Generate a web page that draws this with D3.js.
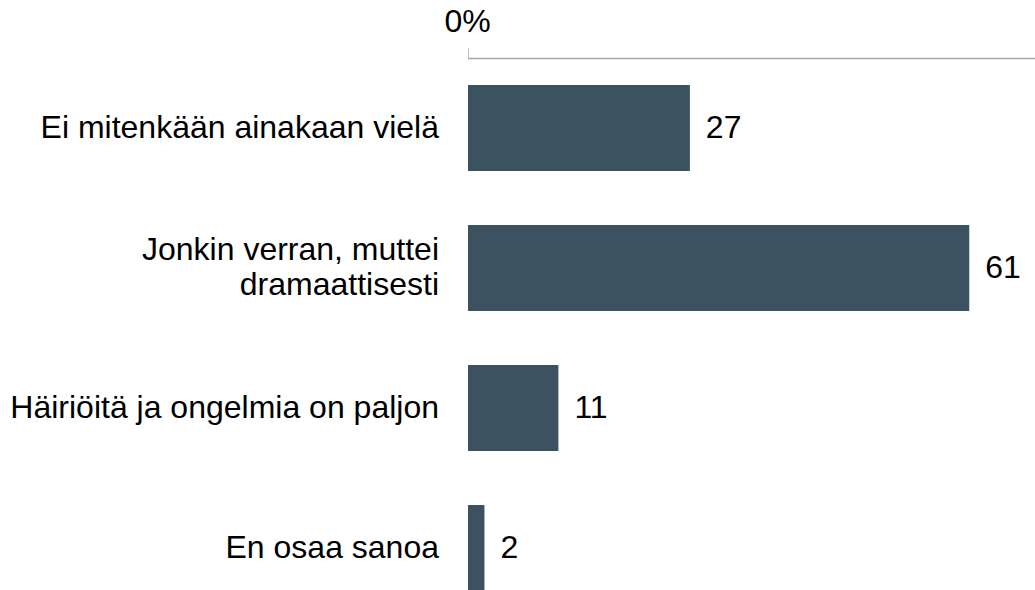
<!DOCTYPE html>
<html>
<head>
<meta charset="utf-8">
<script src="https://cdn.jsdelivr.net/npm/d3@7"></script>
<style>
  html, body { margin: 0; padding: 0; background: #fff; }
  svg { display: block; }
  text { font-family: Arial, "Liberation Sans", sans-serif; fill: #000; }
</style>
</head>
<body>
<svg id="chart" width="1035" height="590"></svg>
<script>
// Survey answers (percent)
const categories = [
  ["Ei mitenkään ainakaan vielä"],
  ["Jonkin verran, muttei", "dramaattisesti"],
  ["Häiriöitä ja ongelmia on paljon"],
  ["En osaa sanoa"]
];
const values = [27, 61, 11, 2];
const tickValues = [0];
const tickLabels = ["0%"];

const svg = d3.select("#chart");
const W = 1035;
const left = 468;
const fontSize = 32;

const x = d3.scaleLinear().domain([0, 69]).range([left, W]);
const y = d3.scaleBand()
  .domain(d3.range(values.length))
  .range([58, 618])
  .paddingInner(54 / 140)
  .paddingOuter(27 / 140);

// Top axis: baseline across the plot and a short tick at 0
const axis = d3.axisTop(x)
  .tickValues(tickValues)
  .tickFormat((d, i) => tickLabels[i])
  .tickSizeInner(10)
  .tickSizeOuter(0)
  .tickPadding(17);

const ax = svg.append("g")
  .attr("transform", "translate(0,58.5)")
  .call(axis);
ax.select(".domain").attr("stroke", "#a6a6a6").attr("stroke-width", 1.5)
  .attr("d", `M${left},0H${W}`);
ax.selectAll(".tick line").attr("stroke", "#bfbfbf").attr("stroke-width", 1);
ax.selectAll(".tick text")
  .attr("font-size", fontSize)
  .attr("fill", "#000")
  .attr("dx", -1)
  .style("font-family", "Arial, 'Liberation Sans', sans-serif");

// Bars
svg.append("g").selectAll("rect")
  .data(values)
  .join("rect")
  .attr("x", x(0))
  .attr("y", (d, i) => y(i))
  .attr("width", d => x(d) - x(0))
  .attr("height", y.bandwidth())
  .attr("fill", "#3d5261");

// Value labels
svg.append("g").selectAll("text")
  .data(values)
  .join("text")
  .attr("x", d => x(d) + 16)
  .attr("y", (d, i) => y(i) + y.bandwidth() / 2)
  .attr("dy", "0.3em")
  .attr("font-size", fontSize)
  .text(d => d);

// Category labels
const lineH = 35;
const cat = svg.append("g").selectAll("text")
  .data(categories)
  .join("text")
  .attr("text-anchor", "end")
  .attr("font-size", fontSize)
  .attr("y", (d, i) => y(i) + y.bandwidth() / 2);
cat.each(function(lines) {
  const t = d3.select(this);
  const y0 = +t.attr("y") - (lines.length - 1) * lineH / 2;
  lines.forEach((s, k) => {
    t.append("tspan")
      .attr("x", 439)
      .attr("y", y0 + k * lineH)
      .attr("dy", "0.3em")
      .text(s);
  });
});
</script>
</body>
</html>
